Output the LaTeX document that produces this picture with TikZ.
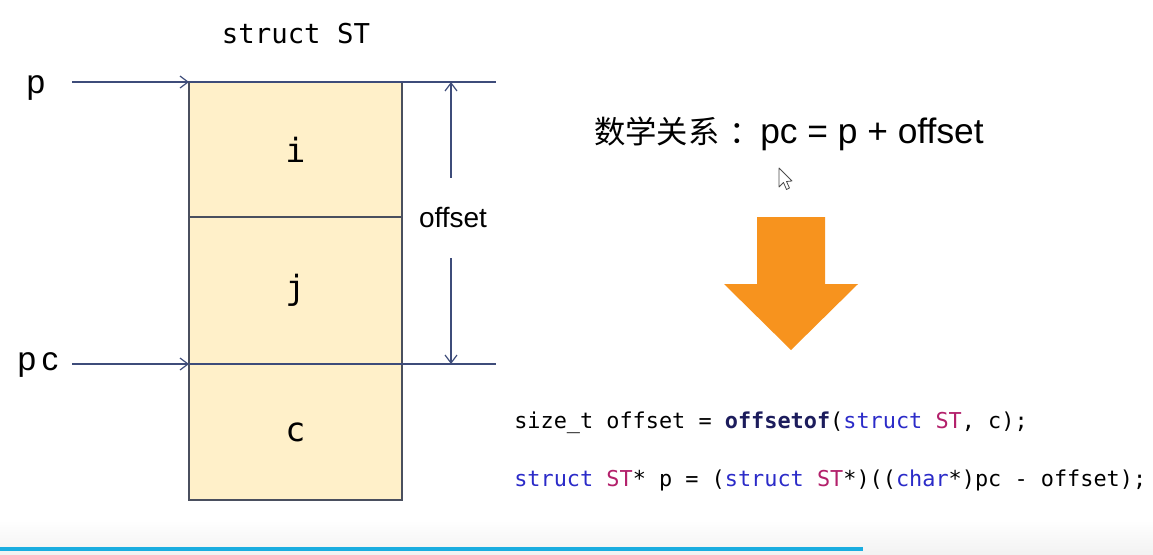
\documentclass[tikz,border=0pt]{standalone}
\usepackage{fontspec}
\setmainfont{Liberation Sans}
\setmonofont{DejaVu Sans Mono}
\newfontfamily\cjk{Noto Sans CJK SC}
\usetikzlibrary{arrows.meta,positioning}

\definecolor{linea}{HTML}{3E4C7A}
\definecolor{borde}{HTML}{4A4F5E}
\definecolor{amarillo}{HTML}{FFF0C9}
\definecolor{naranja}{HTML}{F7931E}
\definecolor{kwazul}{HTML}{2B2BC8}
\definecolor{kwrosa}{HTML}{B3206B}
\definecolor{kwfun}{HTML}{1C1C5C}
\definecolor{barra}{HTML}{1AADE0}

\tikzset{
    celda/.style={draw=borde, line width=1.3pt, fill=amarillo, outer sep=0pt,
        inner sep=0pt, minimum width=159.75pt,
        font=\ttfamily\fontsize{25}{30}\selectfont},
    flecha/.style={draw=linea, line width=0.9pt,
        -{Straight Barb[length=6pt,width=9pt]}},
    raya/.style={draw=linea, line width=0.9pt},
    codigo/.style={anchor=base west, inner sep=0pt,
        font=\ttfamily\fontsize{16.4}{20}\selectfont}
}

\begin{document}
\begin{tikzpicture}[x=0.75pt, y=-0.75pt]
    \useasboundingbox (0,0) rectangle (1153,554);

    % Paso 1: Dibuja las celdas de la estructura
    \node[celda, minimum height=101.25pt] (I) at (295.5,149.5) {i};
    \node[celda, minimum height=110.25pt, below=0pt of I] (J) {j};
    \node[celda, minimum height=102pt, below=0pt of J] (C) {c};
    \node[anchor=base, font=\ttfamily\fontsize{20.5}{24}\selectfont]
        (ST) at (296,43) {struct ST};

    % Paso 2: Punteros p y pc
    \node[anchor=base, font=\fontsize{25}{30}\selectfont] (P) at (36,93) {p};
    \node[anchor=base, font=\fontsize{25}{30}\selectfont] (PC) at (38,370) {p\,c};
    \coordinate (Pini) at (72,82);   % inicio de p
    \coordinate (Pfin) at (496,82);  % fin de p
    \coordinate (Cini) at (72,364);  % inicio de pc
    \coordinate (Cfin) at (496,364); % fin de pc
    \draw[flecha] (Pini) -- (I.north west);
    \draw[raya] (I.north west) -- (Pfin);
    \draw[flecha] (Cini) -- (C.north west);
    \draw[raya] (C.north west) -- (Cfin);

    % Paso 3: Cota del offset
    \node[font=\fontsize{21}{25}\selectfont, minimum height=60pt,
        inner sep=0pt] (O) at (453,218) {offset};
    \coordinate (Otop) at (451,82);
    \coordinate (Obot) at (451,364);
    \draw[flecha] (Otop |- O.north) -- (Otop);
    \draw[flecha] (Obot |- O.south) -- (Obot);

    % Paso 4: Relacion matematica
    \node[anchor=base west, inner sep=0pt] (R) at (594,143)
        {{\cjk\fontsize{23.5}{28}\selectfont 数学关系\kern0.3em：}%
         \fontsize{26.5}{30}\selectfont pc = p + offset};

    % Paso 5: Puntero del raton
    \draw[fill=white, draw=black!70, line width=0.6pt, line join=round]
        (779,168) -- (779,187) -- (783.5,182.5) -- (786.5,189.5)
        -- (789.5,188) -- (786.5,181.5) -- (792,181) -- cycle;

    % Paso 6: Flecha naranja
    \fill[naranja] (757,217) -- (825,217) -- (825,284) -- (858,284)
        -- (791,350) -- (724,284) -- (757,284) -- cycle;

    % Paso 7: Codigo
    \node[codigo] (L1) at (514,428) {size\_t offset =
        \textbf{\textcolor{kwfun}{offsetof}}(\textcolor{kwazul}{struct}
        \textcolor{kwrosa}{ST}, c);};
    \node[codigo] (L2) at (514,486) {\textcolor{kwazul}{struct}
        \textcolor{kwrosa}{ST}* p = (\textcolor{kwazul}{struct}
        \textcolor{kwrosa}{ST}*)((\textcolor{kwazul}{char}*)pc - offset);};

    % Paso 8: Barra inferior
    \shade[top color=white, bottom color=black!5] (0,520) rectangle (1153,554);
    \fill[barra] (0,547) rectangle (863,551);
\end{tikzpicture}
\end{document}
